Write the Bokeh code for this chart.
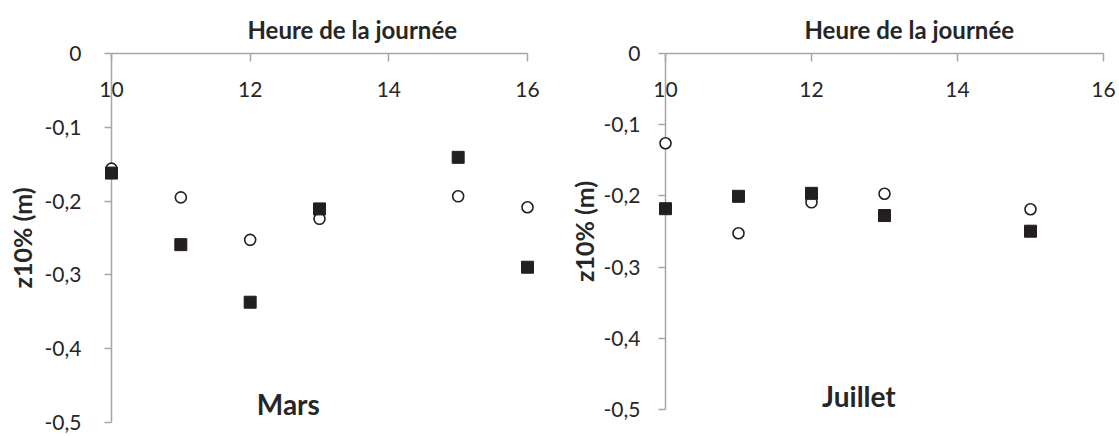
from bokeh.plotting import figure
from bokeh.models import Range1d, FixedTicker, Label, ColumnDataSource
from bokeh.layouts import row
from bokeh.embed import file_html
from bokeh.resources import INLINE

# ---------------- data ----------------
x_title = "Heure de la journée"
y_title = "z10% (m)"
x_ticks = [10, 12, 14, 16]
y_ticks = [0, -0.1, -0.2, -0.3, -0.4, -0.5]

mars_hours_circle = [10, 11, 12, 13, 15, 16]
mars_circle = [-0.156, -0.195, -0.2525, -0.224, -0.1935, -0.2084]
mars_hours_square = [10, 11, 12, 13, 15, 16]
mars_square = [-0.162, -0.259, -0.337, -0.2106, -0.1407, -0.2896]

juil_hours_circle = [10, 11, 12, 13, 15]
juil_circle = [-0.126, -0.2525, -0.209, -0.197, -0.2188]
juil_hours_square = [10, 11, 12, 13, 15]
juil_square = [-0.218, -0.2006, -0.1964, -0.2276, -0.2496]

TEXT = "#262626"
AXIS = "#A6A6A6"
MARK = "#231F20"
FONT = "Lato"


def y_label(t):
    return "0" if t == 0 else ("%.1f" % t).replace(".", ",")


def panel(name, hc, vc, hs, vs, frame_w, frame_h, mb_left, mb_right, mb_bottom,
          title_offset, ystandoff, ylab_standoff, name_pos):
    p = figure(
        frame_width=frame_w, frame_height=frame_h,
        x_range=Range1d(10, 16), y_range=Range1d(-0.5, 0),
        x_axis_location="above", y_axis_location="left",
        output_backend="svg", toolbar_location=None, tools="",
        min_border_left=mb_left, min_border_right=mb_right,
        min_border_top=53, min_border_bottom=mb_bottom,
        title=x_title,
    )
    p.outline_line_color = None
    p.grid.visible = False
    p.background_fill_color = "white"
    p.border_fill_color = "white"

    t = p.title
    t.align = "left"
    t.offset = title_offset
    t.text_font = FONT
    t.text_font_size = "24px"
    t.text_font_style = "bold"
    t.text_color = TEXT
    t.standoff = 20

    xa = p.xaxis[0]
    xa.ticker = FixedTicker(ticks=x_ticks)
    xa.axis_line_color = AXIS
    xa.axis_line_width = 1.5
    xa.major_tick_line_color = AXIS
    xa.major_tick_line_width = 1.5
    xa.major_tick_in = 8
    xa.major_tick_out = 0
    xa.minor_tick_line_color = None
    xa.major_label_standoff = -43
    xa.major_label_text_font = FONT
    xa.major_label_text_font_size = "21px"
    xa.major_label_text_color = TEXT

    ya = p.yaxis[0]
    ya.ticker = FixedTicker(ticks=y_ticks)
    ya.major_label_overrides = {v: y_label(v) for v in y_ticks}
    ya.axis_line_color = AXIS
    ya.axis_line_width = 1.5
    ya.major_tick_line_color = AXIS
    ya.major_tick_line_width = 1.5
    ya.major_tick_in = 0
    ya.major_tick_out = 7
    ya.minor_tick_line_color = None
    ya.major_label_standoff = ystandoff
    ya.major_label_text_font = FONT
    ya.major_label_text_font_size = "21px"
    ya.major_label_text_color = TEXT
    ya.axis_label = y_title
    ya.axis_label_standoff = ylab_standoff
    ya.axis_label_text_font = FONT
    ya.axis_label_text_font_size = "25px"
    ya.axis_label_text_font_style = "bold"
    ya.axis_label_text_color = TEXT

    src_c = ColumnDataSource(dict(x=hc, y=vc))
    src_s = ColumnDataSource(dict(x=hs, y=vs))
    p.scatter("x", "y", source=src_c, marker="circle", size=11,
              fill_color="white", line_color=MARK, line_width=1.6, level="overlay")
    p.scatter("x", "y", source=src_s, marker="square", size=12,
              fill_color=MARK, line_color=MARK, line_width=1, level="overlay")

    p.add_layout(Label(x=name_pos[0], y=name_pos[1], text=name, text_align="center",
                       text_baseline="middle", text_font=FONT,
                       text_font_size="28px", text_font_style="bold",
                       text_color=TEXT))
    return p


p1 = panel("Mars", mars_hours_circle, mars_circle, mars_hours_square, mars_square,
           frame_w=416, frame_h=369, mb_left=111, mb_right=33, mb_bottom=13,
           title_offset=136, ystandoff=23, ylab_standoff=5,
           name_pos=(12.55, -0.475))
p2 = panel("Juillet", juil_hours_circle, juil_circle, juil_hours_square, juil_square,
           frame_w=438, frame_h=356, mb_left=105, mb_right=15, mb_bottom=26,
           title_offset=139, ystandoff=18, ylab_standoff=2,
           name_pos=(12.65, -0.4815))

layout = row(p1, p2)
open("out.html", "w").write(file_html(layout, INLINE))
